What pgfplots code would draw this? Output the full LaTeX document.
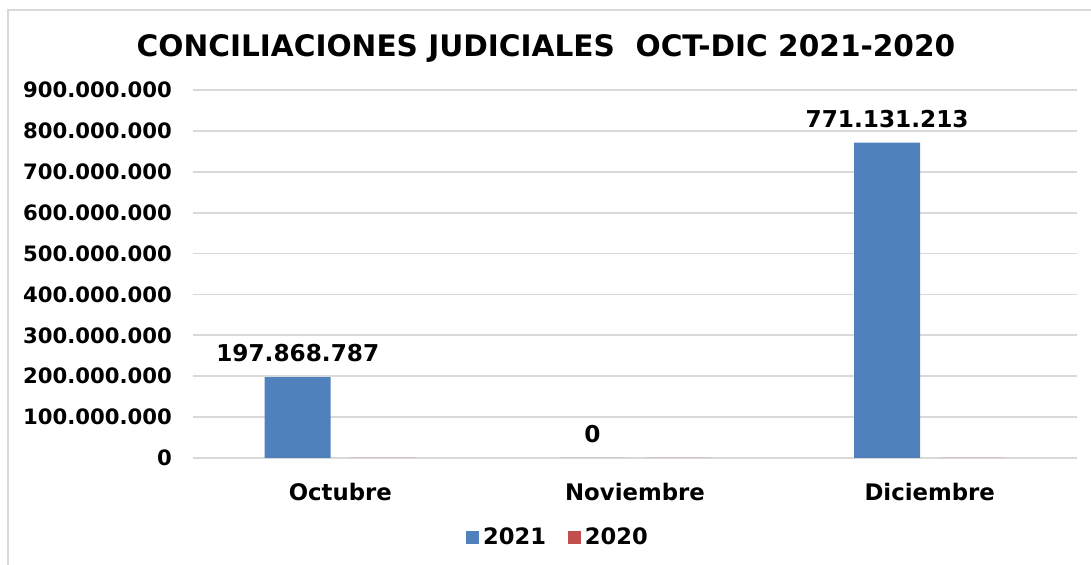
\documentclass[border=0pt]{standalone}
\usepackage{pgfplots}
\pgfplotsset{compat=1.18}
\usepackage{fontspec}
\setmainfont{DejaVu Sans}

\definecolor{serieA}{HTML}{4F81BD}
\definecolor{serieB}{HTML}{C0504D}
\definecolor{rejilla}{HTML}{D9D9D9}

\begin{document}
\begin{tikzpicture}
% picture frame: 1091x565 px at 0.5pt per px, axis box corner at (0,0)
\useasboundingbox (-96.5pt,-53.5pt) rectangle (449pt,229pt);
\draw[rejilla, line width=1pt] (-92.5pt,-70pt) |- (470pt,224pt);
\begin{axis}[
    at={(0pt,0pt)}, anchor=south west,
    scale only axis,
    width=442pt, height=184pt,
    xmin=-0.5, xmax=2.5,
    ymin=0, ymax=900000000,
    xtick={0,1,2},
    xticklabels={Octubre,Noviembre,Diciembre},
    ytick={0,100000000,200000000,300000000,400000000,500000000,600000000,700000000,800000000,900000000},
    yticklabels={0,100.000.000,200.000.000,300.000.000,400.000.000,500.000.000,600.000.000,700.000.000,800.000.000,900.000.000},
    scaled y ticks=false,
    major tick length=0pt,
    ymajorgrids=true,
    grid style={rejilla, line width=0.9pt},
    axis x line*=bottom,
    axis y line*=left,
    x axis line style={rejilla, line width=0.9pt, -},
    y axis line style={draw=none},
    yticklabel style={font=\fontsize{10.6}{12}\selectfont\bfseries, xshift=-7pt},
    xticklabel style={font=\fontsize{11.4}{13}\selectfont\bfseries, anchor=north, yshift=-9pt},
    title={CONCILIACIONES JUDICIALES\ \ OCT-DIC 2021-2020},
    every axis title shift=0pt,
    title style={font=\fontsize{14.8}{17}\selectfont\bfseries, at={(0.3993,1.112)}, anchor=center},
    legend columns=2,
    legend style={at={(0.414,-0.217)}, anchor=center, draw=none, fill=none,
        font=\fontsize{11.3}{13}\selectfont\bfseries,
        /tikz/every even column/.append style={column sep=9pt}},
    legend image code/.code={\fill[#1] (0pt,-3pt) rectangle (6.5pt,3.5pt);},
    point meta=explicit symbolic,
]
\addplot[ybar, bar width=33pt, bar shift=-21.3pt, fill=serieA, draw=none,
    nodes near coords,
    every node near coord/.append style={font=\fontsize{11.6}{13}\selectfont\bfseries,
        anchor=south, yshift=4pt, xshift=-21.3pt}]
    coordinates {(0,197868787) [197.868.787] (1,0) [0] (2,771131213) [771.131.213]};
\addlegendentry{2021}
\addplot[ybar, bar width=33pt, bar shift=21.3pt, fill=serieB, draw=none]
    coordinates {(0,0) [] (1,0) [] (2,0) []};
\addlegendentry{2020}
\end{axis}
\end{tikzpicture}
\end{document}
